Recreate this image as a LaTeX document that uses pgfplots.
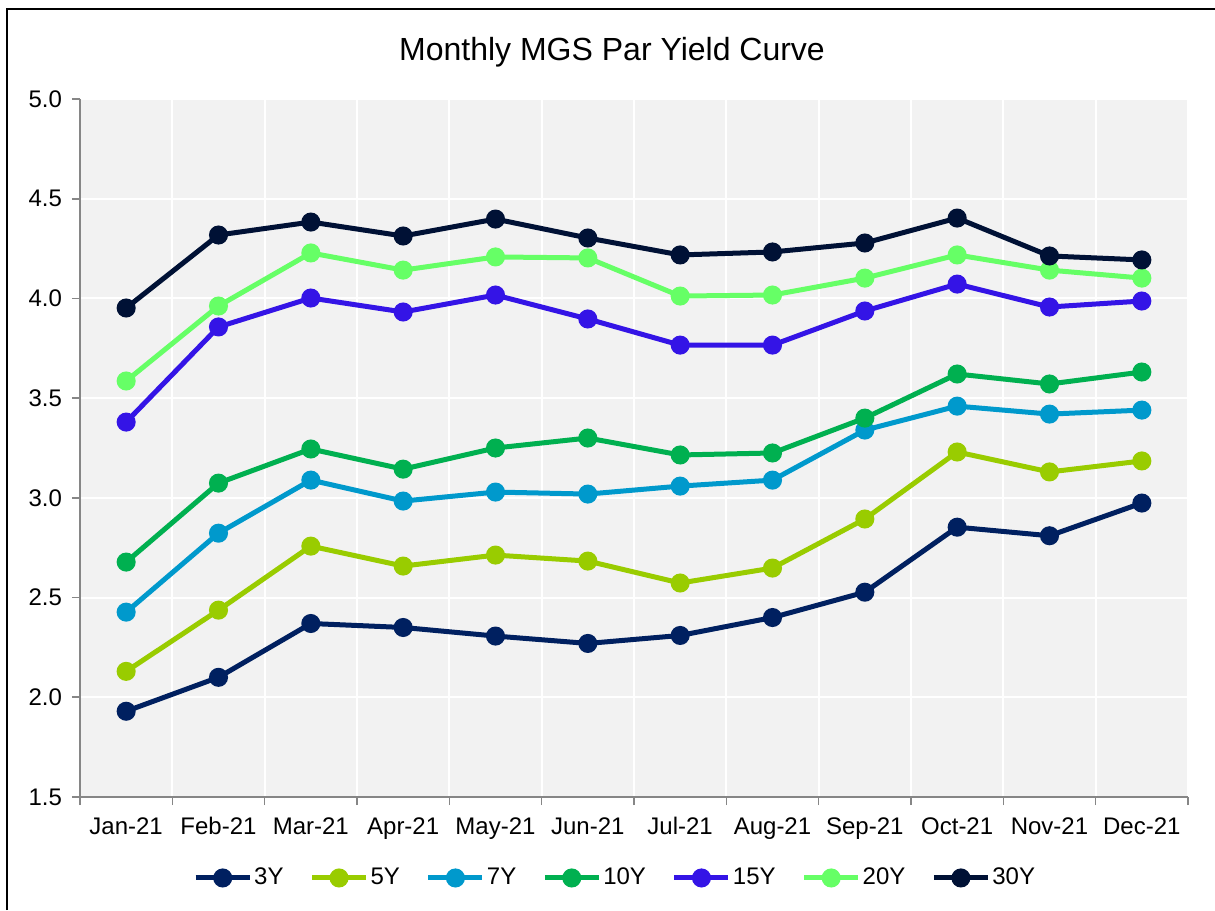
\documentclass[border=0pt]{standalone}
\usepackage{pgfplots}
\pgfplotsset{compat=1.18}
\usepackage{fontspec}
\setmainfont{Liberation Sans}
\definecolor{c3}{HTML}{002060}
\definecolor{c5}{HTML}{99CC00}
\definecolor{c7}{HTML}{0099CC}
\definecolor{c10}{HTML}{00B050}
\definecolor{c15}{HTML}{3414E6}
\definecolor{c20}{HTML}{66FF66}
\definecolor{c30}{HTML}{001135}
\definecolor{bgc}{HTML}{F2F2F2}
\definecolor{axc}{HTML}{868686}
\begin{document}
\begin{tikzpicture}[x=1pt,y=1pt]
\useasboundingbox (-40,-56.5) rectangle (567.5,398.5);
\draw[black,line width=1pt] (-36.5,-56.5) -- (-36.5,394) -- (567.5,394);
\begin{axis}[
  at={(0,0)}, anchor=south west,
  scale only axis, width=554pt, height=349pt,
  xmin=-0.5, xmax=11.5, ymin=1.5, ymax=5.0,
  axis background/.style={fill=bgc},
  axis x line=bottom, axis y line=left,
  axis line style={-, draw=axc, line width=0.8pt},
  xtick={0,...,11},
  xticklabels={Jan-21,Feb-21,Mar-21,Apr-21,May-21,Jun-21,Jul-21,Aug-21,Sep-21,Oct-21,Nov-21,Dec-21},
  minor xtick={-0.5,0.5,...,11.5},
  major x tick style={draw=none},
  minor x tick style={draw=axc, line width=0.8pt},
  minor tick length=4pt,
  xminorgrids=true,
  minor x grid style={white, line width=1pt},
  ytick={1.5,2.0,...,5.0},
  ymajorgrids=true,
  major y grid style={white, line width=1pt},
  y tick style={draw=axc, line width=0.8pt},
  major tick length=4pt,
  tick align=outside,
  yticklabel={\pgfmathprintnumber[fixed,fixed zerofill,precision=1]{\tick}},
  /pgf/number format/assume math mode=true,
  tick label style={font=\fontsize{12}{14}\selectfont, black},
  xticklabel style={yshift=-2pt, text height=9pt, text depth=2.5pt},
  yticklabel style={xshift=-1.5pt},
  every axis plot/.append style={line width=2.5pt, mark=*, mark size=3.5pt, mark options={solid}},
  legend columns=7,
  legend style={at={(0.483,-0.116)}, anchor=center, draw=none, fill=none,
    font=\fontsize{12}{14}\selectfont, column sep=0pt,
    nodes={inner sep=1pt},
    /tikz/every even column/.append style={column sep=12pt}},
  legend image code/.code={
    \draw[#1, line width=2.5pt] (0pt,0pt) -- (27pt,0pt);
    \draw[#1, only marks] plot coordinates {(13.5pt,0pt)};
  },
  clip=false,
]
\addplot[color=c3] coordinates {(0,1.93) (1,2.10) (2,2.37) (3,2.35) (4,2.307) (5,2.27) (6,2.31) (7,2.40) (8,2.527) (9,2.853) (10,2.81) (11,2.974)};
\addlegendentry{3Y}
\addplot[color=c5] coordinates {(0,2.13) (1,2.437) (2,2.758) (3,2.658) (4,2.713) (5,2.683) (6,2.573) (7,2.648) (8,2.894) (9,3.230) (10,3.13) (11,3.185)};
\addlegendentry{5Y}
\addplot[color=c7] coordinates {(0,2.427) (1,2.823) (2,3.089) (3,2.984) (4,3.029) (5,3.019) (6,3.059) (7,3.089) (8,3.340) (9,3.460) (10,3.420) (11,3.440)};
\addlegendentry{7Y}
\addplot[color=c10] coordinates {(0,2.678) (1,3.074) (2,3.245) (3,3.144) (4,3.250) (5,3.300) (6,3.215) (7,3.225) (8,3.400) (9,3.621) (10,3.571) (11,3.631)};
\addlegendentry{10Y}
\addplot[color=c15] coordinates {(0,3.380) (1,3.857) (2,4.002) (3,3.932) (4,4.017) (5,3.897) (6,3.766) (7,3.766) (8,3.937) (9,4.072) (10,3.957) (11,3.987)};
\addlegendentry{15Y}
\addplot[color=c20] coordinates {(0,3.586) (1,3.962) (2,4.228) (3,4.142) (4,4.208) (5,4.203) (6,4.012) (7,4.017) (8,4.102) (9,4.218) (10,4.142) (11,4.102)};
\addlegendentry{20Y}
\addplot[color=c30] coordinates {(0,3.952) (1,4.318) (2,4.383) (3,4.313) (4,4.398) (5,4.303) (6,4.218) (7,4.233) (8,4.278) (9,4.403) (10,4.213) (11,4.193)};
\addlegendentry{30Y}
\end{axis}
\node[font=\fontsize{16}{19}\selectfont] at (266,372.5) {Monthly MGS Par Yield Curve};
\end{tikzpicture}
\end{document}
